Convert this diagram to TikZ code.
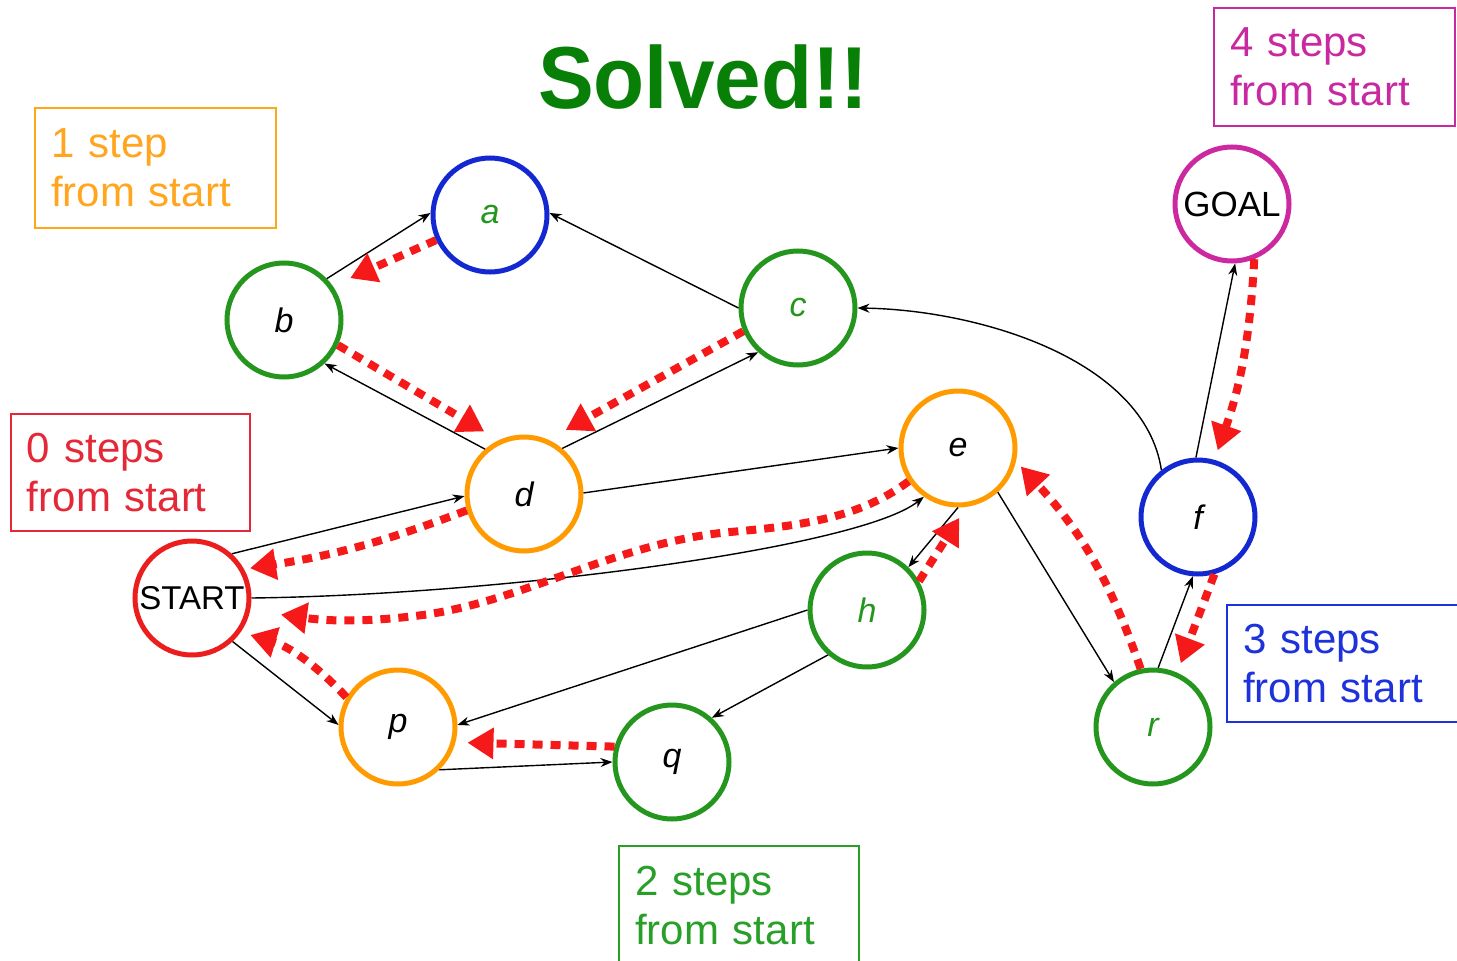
\documentclass[tikz,border=0pt]{standalone}
\usepackage{fontspec}
\setmainfont{Liberation Sans}
\usetikzlibrary{arrows.meta}
\definecolor{nodeGreen}{RGB}{36,150,30}
\definecolor{nodeOrange}{RGB}{255,155,0}
\definecolor{nodeBlue}{RGB}{20,40,210}
\definecolor{nodeRed}{RGB}{235,30,30}
\definecolor{nodeMagenta}{RGB}{204,40,160}
\definecolor{titleGreen}{RGB}{8,128,8}
\definecolor{traceRed}{RGB}{245,25,25}
\definecolor{boxOrange}{RGB}{255,165,30}
\definecolor{boxRed}{RGB}{228,40,55}
\definecolor{boxGreen}{RGB}{40,160,40}
\definecolor{boxBlue}{RGB}{30,50,220}
\definecolor{boxMagenta}{RGB}{200,40,160}
\begin{document}
\begin{tikzpicture}[x=1pt,y=-1pt,
  state/.style={circle, draw, line width=5pt, minimum size=114pt, inner sep=0pt,
                font=\fontsize{34}{40}\selectfont\itshape},
  capstate/.style={state, font=\fontsize{33}{40}\selectfont},
  link/.style={line width=1.4pt, -{Stealth[length=12pt,width=9pt]}},
  trace/.style={draw=traceRed, line width=8pt, dash pattern=on 10pt off 8pt,
                -{Triangle[length=26pt,width=30pt]}},
  stepbox/.style={draw, line width=2pt, anchor=north west, align=left,
                  inner xsep=16pt, inner ysep=0pt, minimum height=120pt,
                  font=\fontsize{42}{49}\selectfont}
]
\useasboundingbox (0,0) rectangle (1457,961);

% title
\node[font=\fontsize{88}{90}\selectfont\bfseries, text=titleGreen, xscale=0.95, inner sep=0pt]
  (title) at (703,77) {Solved!!};

% distance labels
\node[stepbox, draw=boxOrange, text=boxOrange, text width=209pt] (l1) at (34,107) {1 step\\from start};
\node[stepbox, draw=boxRed, text=boxRed, text width=207pt, minimum height=117pt] (l0) at (10,413) {0 steps\\from start};
\node[stepbox, draw=boxMagenta, text=boxMagenta, text width=209pt, minimum height=118pt] (l4) at (1213,7) {4 steps\\from start};
\node[stepbox, draw=boxBlue, text=boxBlue, text width=205pt, minimum height=117pt] (l3) at (1226,604) {3 steps\\from start};
\node[stepbox, draw=boxGreen, text=boxGreen, text width=208pt] (l2) at (618,845) {2 steps\\from start};

% states
\node[state, draw=nodeBlue, text=nodeGreen] (a) at (490,215) {a};
\node[state, draw=nodeGreen] (b) at (284,320) {b};
\node[state, draw=nodeGreen, text=nodeGreen] (c) at (798,308) {c};
\node[state, draw=nodeOrange] (d) at (524,494) {d};
\node[state, draw=nodeOrange] (e) at (958,448) {e};
\node[state, draw=nodeBlue] (f) at (1198,517) {f};
\node[state, draw=nodeGreen, text=nodeGreen] (h) at (867,610) {h};
\node[capstate, draw=nodeRed] (START) at (192,598) {START};
\node[state, draw=nodeOrange] (p) at (398,727) {p};
\node[state, draw=nodeGreen] (q) at (672,762) {q};
\node[state, draw=nodeGreen, text=nodeGreen] (r) at (1153,727) {r};
\node[capstate, draw=nodeMagenta, font=\fontsize{35}{40}\selectfont] (GOAL) at (1232,204) {GOAL};

% graph edges
\draw[link] (b.44) -- (a.178);
\draw[link] (c.180) -- (a.2);
\draw[link] (d.131) -- (b.-47);
\draw[link] (d.50) -- (c.228);
\draw[link] (START.48) -- (d.182);
\draw[link] (d.1) -- (e.180);
\draw[link] (START.0) .. controls (500,595) and (860,548) .. (e.235);
\draw[link] (START.-47) -- (p.178);
\draw[link] (h.180) -- (p.2);
\draw[link] (p.-46) -- (q.180);
\draw[link] (h.229) -- (q.48);
\draw[link] (e.-90) -- (h.46);
\draw[link] (e.-48) -- (r.131);
\draw[link] (r.85) -- (f.-95);
\draw[link] (f.92) -- (GOAL.-87);
\draw[link] (f.128) .. controls (1145,360) and (980,310) .. (c.0);

% back pointers of the solution
\draw[trace, shorten >=19pt] (a.205) -- (b.35);
\draw[trace, shorten >=17pt] (b.-25) -- (d.115);
\draw[trace, shorten >=20pt] (c.203) -- (d.66);
\draw[trace, shorten >=6pt] (d.196) to[bend left=6] (START.29);
\draw[trace, shorten >=31pt] (e.214) .. controls (860,518) and (800,526) .. (730,532)
  .. controls (620,542) and (530,598) .. (430,614)
  .. controls (360,624) and (320,620) .. (START.-12);
\draw[trace, shorten >=10pt] (p.150) to[bend right=15] (START.-35);
\draw[trace, shorten >=12pt] (q.165) -- (p.-15);
\draw[trace, shorten >=13pt] (h.29) -- (e.-82);
\draw[trace, shorten >=7pt] (r.102) to[bend right=12] (e.-13);
\draw[trace, shorten >=10pt] (f.-74) -- (r.66);
\draw[trace, shorten >=10pt] (GOAL.-68) to[bend left=8] (f.74);
\end{tikzpicture}
\end{document}
